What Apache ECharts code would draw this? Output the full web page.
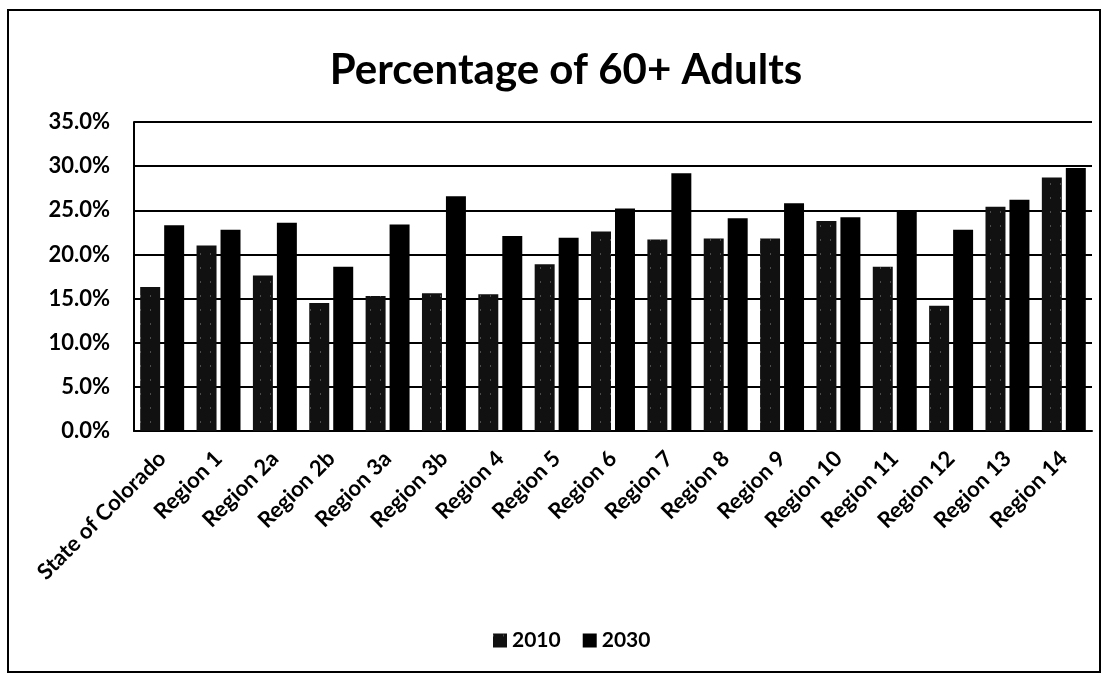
<!DOCTYPE html>
<html><head><meta charset="utf-8">
<script src="https://cdn.jsdelivr.net/npm/echarts@6/dist/echarts.min.js"></script>
<style>
html,body{margin:0;padding:0;background:#fff;}
#frame{position:absolute;left:7px;top:9px;width:1090px;height:660px;border:2px solid #000;}
#c{position:absolute;left:0;top:0;width:1107px;height:674px;}
</style></head><body>
<div id="frame"></div>
<div id="c"></div>
<script>
const categories = ["State of Colorado","Region 1","Region 2a","Region 2b","Region 3a","Region 3b","Region 4","Region 5","Region 6","Region 7","Region 8","Region 9","Region 10","Region 11","Region 12","Region 13","Region 14"];
const values2010 = [16.3,21.0,17.6,14.5,15.3,15.6,15.5,18.9,22.6,21.7,21.8,21.8,23.8,18.6,14.2,25.4,28.7];
const values2030 = [23.3,22.8,23.6,18.6,23.4,26.6,22.1,21.9,25.2,29.2,24.1,25.8,24.2,24.9,22.8,26.2,29.8];
const seriesNames = ["2010","2030"];

const chart = echarts.init(document.getElementById('c'));
const font = 'Lato, "Open Sans", sans-serif';
chart.setOption({
  animation:false,
  title:{text:'Percentage of 60+ Adults',left:561,textAlign:'center',top:44,
    textStyle:{fontFamily:font,fontWeight:'bold',fontSize:42,color:'#000'}},
  legend:{data:seriesNames,top:625,left:488,itemWidth:14,itemHeight:14,itemGap:22,
    icon:'rect',textStyle:{fontFamily:font,fontWeight:'bold',fontSize:21,color:'#000'}},
  grid:{left:134,right:15,top:122,bottom:243,containLabel:false},
  xAxis:{type:'category',data:categories,
    axisLine:{lineStyle:{color:'#000',width:2}},
    axisTick:{show:false},
    axisLabel:{rotate:45,interval:0,margin:24,fontFamily:font,fontWeight:'bold',fontSize:22,color:'#000'}},
  yAxis:{type:'value',min:0,max:35,interval:5,
    axisLine:{show:true,lineStyle:{color:'#000',width:2}},
    axisTick:{show:false},
    splitLine:{lineStyle:{color:'#000',width:2}},
    axisLabel:{formatter:v=>v.toFixed(1)+'%',margin:24,fontFamily:font,fontWeight:'bold',fontSize:22,color:'#000'}},
  series:[
    {name:seriesNames[0],type:'bar',data:values2010,barGap:'20%',barCategoryGap:'22%',
      itemStyle:{color:'#111',decal:{symbol:'rect',symbolSize:0.5,color:'rgba(255,255,255,0.5)',dashArrayX:[1,9],dashArrayY:[4,10],rotation:0}}},
    {name:seriesNames[1],type:'bar',data:values2030,itemStyle:{color:'#000'}}
  ]
});
</script>
</body></html>
